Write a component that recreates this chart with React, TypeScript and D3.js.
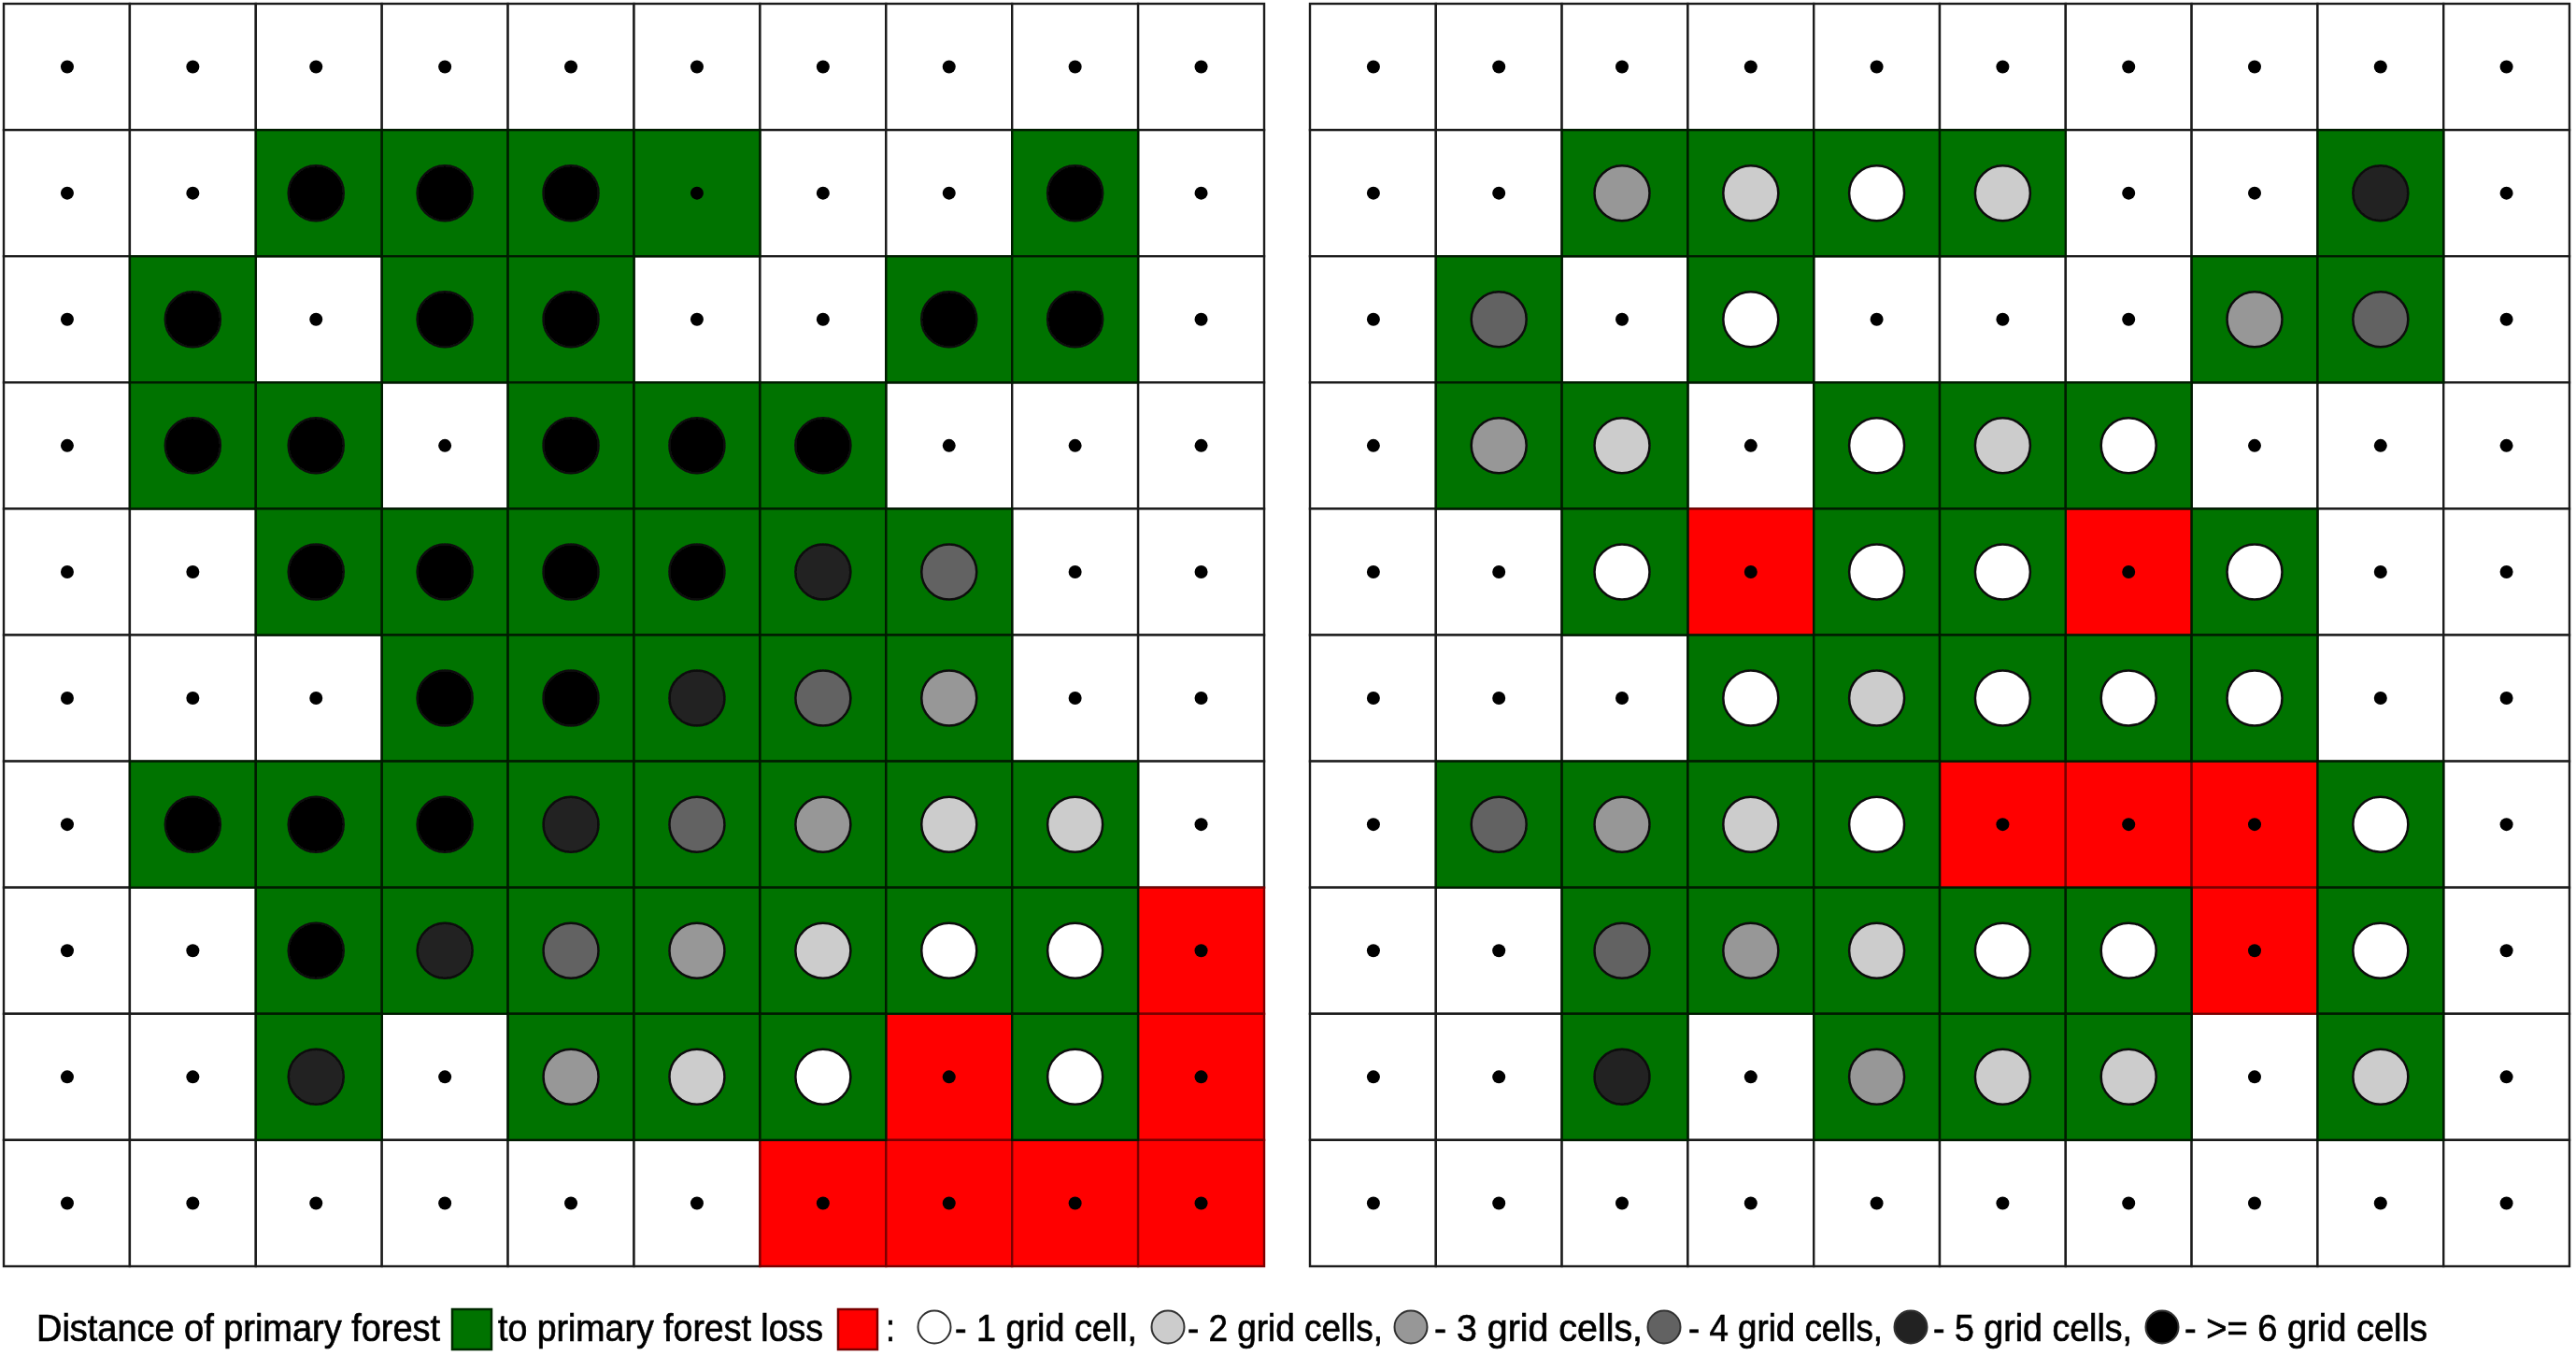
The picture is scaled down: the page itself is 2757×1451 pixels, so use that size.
import React, { useEffect, useRef } from 'react';
import * as d3 from 'd3';

// cell codes: 0 = non forest, 1-6 = distance class, 7 = forest without a distance circle, 9 = loss
const leftGrid: number[][] = [
  [0, 0, 0, 0, 0, 0, 0, 0, 0, 0],
  [0, 0, 6, 6, 6, 7, 0, 0, 6, 0],
  [0, 6, 0, 6, 6, 0, 0, 6, 6, 0],
  [0, 6, 6, 0, 6, 6, 6, 0, 0, 0],
  [0, 0, 6, 6, 6, 6, 5, 4, 0, 0],
  [0, 0, 0, 6, 6, 5, 4, 3, 0, 0],
  [0, 6, 6, 6, 5, 4, 3, 2, 2, 0],
  [0, 0, 6, 5, 4, 3, 2, 1, 1, 9],
  [0, 0, 5, 0, 3, 2, 1, 9, 1, 9],
  [0, 0, 0, 0, 0, 0, 9, 9, 9, 9],
];

const rightGrid: number[][] = [
  [0, 0, 0, 0, 0, 0, 0, 0, 0, 0],
  [0, 0, 3, 2, 1, 2, 0, 0, 5, 0],
  [0, 4, 0, 1, 0, 0, 0, 3, 4, 0],
  [0, 3, 2, 0, 1, 2, 1, 0, 0, 0],
  [0, 0, 1, 9, 1, 1, 9, 1, 0, 0],
  [0, 0, 0, 1, 2, 1, 1, 1, 0, 0],
  [0, 4, 3, 2, 1, 9, 9, 9, 1, 0],
  [0, 0, 4, 3, 2, 1, 1, 9, 1, 0],
  [0, 0, 5, 0, 3, 2, 2, 0, 2, 0],
  [0, 0, 0, 0, 0, 0, 0, 0, 0, 0],
];

const classGrays = ['#ffffff', '#cccccc', '#979797', '#626262', '#222222', '#000000'];
const classLabels = ['- 1 grid cell,', '- 2 grid cells,', '- 3 grid cells,', '- 4 grid cells,', '- 5 grid cells,', '- >= 6 grid cells'];
const classCircleX = [1000, 1250, 1510, 1781, 2045, 2314];
const classLabelX = [[1022, 195], [1271, 209], [1535, 223], [1807, 208], [2069, 213], [2338, 260]];

const GREEN = '#007300';
const RED = '#ff0000';

const cellFill = (c: number) => (c === 9 ? RED : c === 0 ? '#ffffff' : GREEN);
const cellLine = (c: number) => (c === 9 ? '#7a0000' : c === 0 ? '#1c1c1c' : '#001a00');

// the third column's symbols sit a little left of the cell centre in the source
const colNudge = [0.5, 0, -3, 0, 0, 0, 0, 0, 0, 0];

function App() {
  const svgRef = useRef<SVGSVGElement>(null);

  useEffect(() => {
    const svg = d3.select(svgRef.current);
    svg.selectAll('*').remove();

    // source image is a soft upscaled raster
    svg.append('defs').append('filter').attr('id', 'soft')
      .attr('x', 0).attr('y', 0).attr('width', 1).attr('height', 1)
      .append('feGaussianBlur').attr('stdDeviation', 0.7);

    const root = svg.append('g').attr('filter', 'url(#soft)');
    root.append('rect').attr('width', 2757).attr('height', 1451).attr('fill', '#ffffff');

    const idx = d3.range(10);

    const drawGrid = (grid: number[][], x0: number, x1: number) => {
      const x = d3.scaleBand<number>().domain(idx).range([x0, x1]);
      const y = d3.scaleBand<number>().domain(idx).range([4, 1355]);
      const cells = grid.flatMap((row, r) => row.map((c, col) => ({ r, col, c })));
      // white first so the coloured cell edges stay on top
      const order = (c: number) => (c === 0 ? 0 : c === 9 ? 1 : 2);
      const g = root.append('g');

      g.selectAll('rect')
        .data(cells.slice().sort((a, b) => order(a.c) - order(b.c)))
        .join('rect')
        .attr('x', (d) => x(d.col)!)
        .attr('y', (d) => y(d.r)!)
        .attr('width', x.bandwidth())
        .attr('height', y.bandwidth())
        .attr('fill', (d) => cellFill(d.c))
        .attr('stroke', (d) => cellLine(d.c))
        .attr('stroke-width', 2.4);

      g.selectAll('circle')
        .data(cells)
        .join('circle')
        .attr('cx', (d) => x(d.col)! + x.bandwidth() / 2 + colNudge[d.col])
        .attr('cy', (d) => y(d.r)! + y.bandwidth() / 2)
        .attr('r', (d) => (d.c >= 1 && d.c <= 6 ? 29.5 : 7))
        .attr('fill', (d) => (d.c >= 1 && d.c <= 6 ? classGrays[d.c - 1] : '#000000'))
        .attr('stroke', (d) => (d.c >= 1 && d.c <= 6 ? '#0c0c0c' : 'none'))
        .attr('stroke-width', 2.5);
    };

    drawGrid(leftGrid, 4, 1353);
    drawGrid(rightGrid, 1402, 2750);

    // legend
    const legend = root.append('g')
      .attr('font-family', '"Liberation Sans", Arial, sans-serif')
      .attr('font-size', 40)
      .attr('fill', '#000')
      .attr('stroke', '#000')
      .attr('stroke-width', 0.7);
    const textY = 1435;
    const addText = (s: string, xPos: number, len: number) =>
      legend.append('text').attr('x', xPos).attr('y', textY).attr('textLength', len).attr('lengthAdjust', 'spacingAndGlyphs').text(s);

    addText('Distance of primary forest', 39, 432);
    legend.append('rect').attr('x', 484).attr('y', 1401).attr('width', 42).attr('height', 43).attr('fill', GREEN).attr('stroke', '#002c00').attr('stroke-width', 2.5);
    addText('to primary forest loss', 533, 348);
    legend.append('rect').attr('x', 897).attr('y', 1401).attr('width', 42).attr('height', 43).attr('fill', RED).attr('stroke', '#7a0000').attr('stroke-width', 2.5);
    addText(':', 948, 10);

    classLabels.forEach((label, i) => {
      legend.append('circle').attr('cx', classCircleX[i]).attr('cy', 1420).attr('r', 17.5).attr('fill', classGrays[i]).attr('stroke', '#333').attr('stroke-width', 2);
      addText(label, classLabelX[i][0], classLabelX[i][1]);
    });
  }, []);

  return <svg ref={svgRef} width={2757} height={1451} style={{ position: 'absolute', left: 0, top: 0, display: 'block', background: '#fff' }} />;
}

export default App;
